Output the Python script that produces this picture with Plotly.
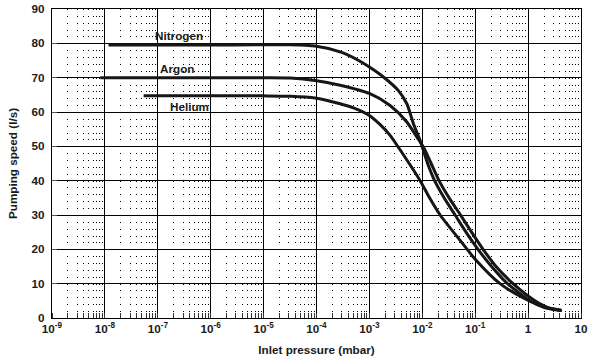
import numpy as np
import plotly.graph_objects as go

# ---- data ----
nitrogen_p = [1.17e-8, 1e-6, 1e-5, 3.2e-5, 9.4e-5, 2.8e-4, 5.8e-4, 1.0e-3, 1.84e-3, 3.5e-3,
              5.1e-3, 6.8e-3, 9.1e-3, 1.26e-2, 1.71e-2, 2.58e-2, 4.17e-2, 6.71e-2, 0.113, 0.204,
              0.408, 1.09, 2.09, 4.3]
nitrogen_s = [79.5, 79.5, 79.6, 79.6, 79.2, 77.5, 75.3, 73.1, 70.2, 66.3,
              62.4, 56.6, 51.7, 45.0, 40.0, 35.0, 30.0, 25.0, 20.0, 15.0,
              10.0, 5.0, 3.0, 2.2]

argon_p = [8.2e-9, 1e-6, 1e-5, 3.2e-5, 9.4e-5, 2.8e-4, 1.0e-3, 2.46e-3, 5.1e-3, 7.9e-3,
           1.05e-2, 1.47e-2, 2.07e-2, 3.21e-2, 5.28e-2, 8.53e-2, 0.141, 0.248, 0.519, 1.35,
           2.38, 4.3]
argon_s = [70.0, 70.0, 70.0, 69.9, 69.2, 67.8, 65.4, 61.9, 57.1, 52.7,
           49.8, 45.0, 40.0, 35.0, 30.0, 25.0, 20.0, 15.0, 10.0, 5.0,
           3.0, 2.2]

helium_p = [5.4e-8, 1e-6, 1e-5, 3.2e-5, 9.4e-5, 2.8e-4, 5.0e-4, 1.0e-3, 1.6e-3, 2.46e-3,
            3.8e-3, 9.1e-3, 1.37e-2, 2.17e-2, 5.2e-2, 9.9e-2, 0.295, 0.87, 2.0, 4.3]
helium_s = [64.7, 64.7, 64.7, 64.6, 64.1, 62.4, 61.2, 59.0, 56.3, 53.2,
            49.0, 40.0, 35.0, 30.0, 22.6, 17.2, 10.0, 5.6, 3.2, 2.2]

series_names = ["Nitrogen", "Argon", "Helium"]
label_p = [2.54e-7, 2.3e-7, 3.9e-7]
label_s = [82.3, 72.6, 61.7]

x_tickvals = [1e-9, 1e-8, 1e-7, 1e-6, 1e-5, 1e-4, 1e-3, 1e-2, 1e-1, 1, 10]
x_ticktext = ["10<sup>-9</sup>", "10<sup>-8</sup>", "10<sup>-7</sup>", "10<sup>-6</sup>",
              "10<sup>-5</sup>", "10<sup>-4</sup>", "10<sup>-3</sup>", "10<sup>-2</sup>",
              "10<sup>-1</sup>", "1", "10"]
y_tickvals = [0, 10, 20, 30, 40, 50, 60, 70, 80, 90]

x_title = "Inlet pressure (mbar)"
y_title = "Pumping speed (l/s)"

# ---- figure ----
FONT = dict(family="Liberation Sans, Arial, sans-serif", size=11.7, color="#1a1a1a", weight="bold")
LINE = "#161616"

fig = go.Figure()
for name, xs, ys in [("Nitrogen", nitrogen_p, nitrogen_s),
                     ("Argon", argon_p, argon_s),
                     ("Helium", helium_p, helium_s)]:
    fig.add_trace(go.Scatter(x=xs, y=ys, mode="lines", name=name,
                             line=dict(color=LINE, width=3, shape="spline", smoothing=0.7),
                             showlegend=False, hoverinfo="skip"))

for name, px_, sy in zip(series_names, label_p, label_s):
    fig.add_annotation(x=np.log10(px_), y=sy, xref="x", yref="y", text=name,
                       showarrow=False, font=FONT, xanchor="center", yanchor="middle")

fig.update_xaxes(type="log", range=[-9, 1], tickvals=x_tickvals, ticktext=x_ticktext,
                 tickfont=FONT, showgrid=True, gridcolor="#000", gridwidth=1.2,
                 showline=True, linecolor="#000", linewidth=1.2, mirror=True,
                 ticks="", zeroline=False, automargin=False,
                 title=dict(text=x_title, font=FONT, standoff=11),
                 minor=dict(dtick="D1", showgrid=True, gridcolor="#000", gridwidth=1,
                            griddash="1px,5.864px", ticks="inside", ticklen=5,
                            tickcolor="#333", tickwidth=1))
fig.update_yaxes(range=[0, 90], tickvals=y_tickvals, tickfont=FONT,
                 showgrid=True, gridcolor="#000", gridwidth=1.2,
                 showline=True, linecolor="#000", linewidth=1.2, mirror=True,
                 ticks="inside", ticklen=5, tickcolor="#555", zeroline=False,
                 ticklabelstandoff=4, automargin=False,
                 title=dict(text=y_title, font=FONT, standoff=11))

fig.update_layout(width=592, height=361,
                  margin=dict(l=52, r=11, t=9, b=43, autoexpand=False),
                  paper_bgcolor="white", plot_bgcolor="white",
                  font=FONT)

fig.write_html("out.html", config={"displayModeBar": False},
               post_script="document.body.style.margin='0';document.body.style.overflow='hidden';")
